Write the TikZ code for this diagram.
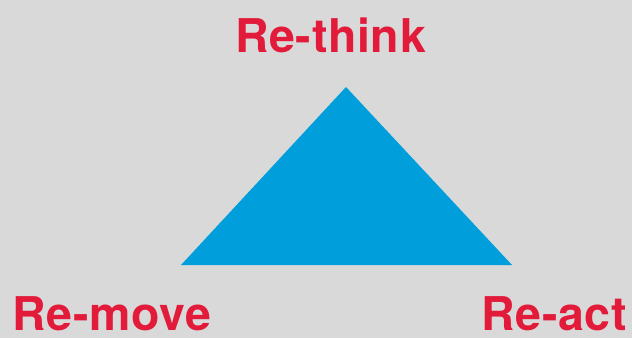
\documentclass[tikz,border=0pt]{standalone}
\usepackage{fontspec}
\setmainfont{TeX Gyre Heros}[LetterSpace=1.5]
\usetikzlibrary{positioning}

\definecolor{bggrey}{HTML}{D9D9D9}
\definecolor{triblue}{HTML}{009EDB}
\definecolor{labelred}{HTML}{E31B3A}

\tikzset{
  label/.style={text=labelred, font=\fontsize{46.5}{50}\selectfont\bfseries, inner sep=0pt}
}

\begin{document}
\begin{tikzpicture}[x=1pt,y=-1pt]
   \fill[bggrey] (0,0) rectangle (632,338);
   \useasboundingbox (0,0) rectangle (632,338);
   \coordinate (top) at (346,87);
   \coordinate (left) at (181,265);
   \coordinate (right) at (512,265);
   \fill[triblue] (top) -- (left) -- (right) -- cycle;
   \node[label, anchor=base] (think) at (330.5,52) {Re-think};
   \node[label, anchor=base west] (move) at (12.5,330) {Re-move};
   \node[label, anchor=base east] (act) at (627,330) {Re-act};
\end{tikzpicture}
\end{document}
